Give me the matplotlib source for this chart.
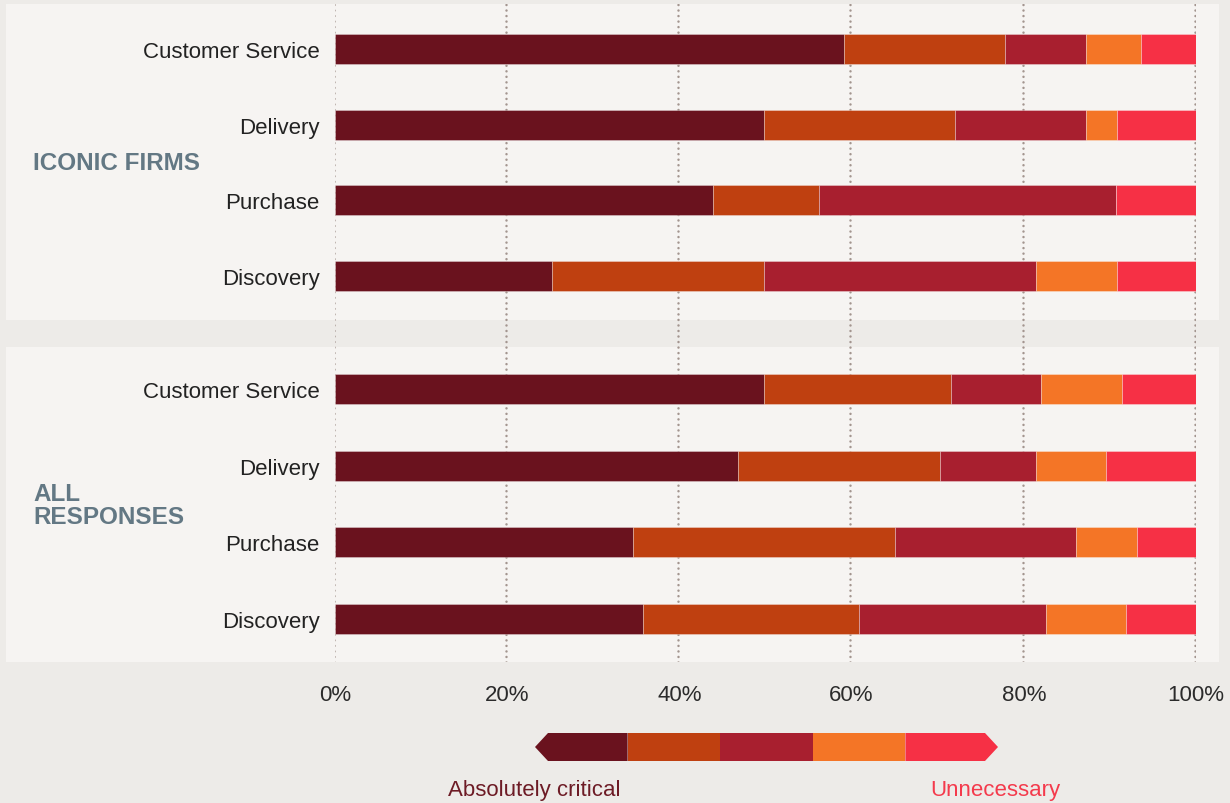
import numpy as np
import matplotlib
matplotlib.use("Agg")
import matplotlib.pyplot as plt
from matplotlib.patches import Rectangle, Polygon

plt.rcParams['font.family'] = ['Liberation Sans', 'DejaVu Sans']

W, H = 1230, 804

categories = ["Customer Service", "Delivery", "Purchase", "Discovery"]
groups = ["ICONIC FIRMS", "ALL\nRESPONSES"]
x_ticks = [0, 20, 40, 60, 80, 100]
x_labels = ["0%", "20%", "40%", "60%", "80%", "100%"]
scale_labels = ["Absolutely critical", "Unnecessary"]

# shares per importance level, most critical first
iconic_l1 = [59.1, 49.8, 43.9, 25.2]
iconic_l2 = [18.7, 22.2, 12.3, 24.6]
iconic_l3 = [9.4, 15.2, 34.5, 31.6]
iconic_l4 = [6.4, 3.6, 0.0, 9.4]
iconic_l5 = [6.4, 9.2, 9.3, 9.2]

all_l1 = [49.8, 46.8, 34.6, 35.8]
all_l2 = [21.7, 23.5, 30.4, 25.1]
all_l3 = [10.5, 11.1, 21.1, 21.7]
all_l4 = [9.4, 8.2, 7.0, 9.3]
all_l5 = [8.6, 10.4, 6.9, 8.1]

colors = ['#6a121e', '#bf4010', '#a81f2f', '#f47526', '#f63045']
bg = '#edebe8'
panel_bg = '#f6f4f2'
grid_c = '#a3958f'


def fx(px):
    return px / W


def fy(py):
    return 1 - py / H


fig = plt.figure(figsize=(W / 100, H / 100), dpi=100)
fig.patch.set_facecolor(bg)

# panel backgrounds
for top, bot in [(5, 321), (348, 663)]:
    fig.patches.append(Rectangle((fx(6), fy(bot)), fx(1219) - fx(6), fy(top) - fy(bot),
                                 transform=fig.transFigure, facecolor=panel_bg,
                                 edgecolor='none', zorder=-5))

x0, x1 = 335, 1196

# grid axes, spans both panels
gax = fig.add_axes([fx(x0), fy(663), fx(x1) - fx(x0), fy(5) - fy(663)])
gax.set_facecolor('none')
gax.set_xlim(0, 100)
gax.set_ylim(0, 1)
gax.set_yticks([])
gax.set_xticks(x_ticks)
gax.set_xticklabels(x_labels, fontsize=16, color='#2b2b2b')
gax.tick_params(axis='x', length=0, pad=16)
for x in x_ticks:
    gax.axvline(x - 0.15, color=grid_c, lw=1.8, ls=(0, (0.01, 2.2)),
                dash_capstyle='round')
for s in gax.spines.values():
    s.set_visible(False)

panels = [
    (groups[0], [iconic_l1, iconic_l2, iconic_l3, iconic_l4, iconic_l5], (5, 321), 50, 75.67, 163),
    (groups[1], [all_l1, all_l2, all_l3, all_l4, all_l5], (348, 663), 390, 76.67, 506),
]

for name, levels, (top, bot), first, step, label_y in panels:
    ax = fig.add_axes([fx(x0), fy(bot), fx(x1) - fx(x0), fy(top) - fy(bot)])
    ax.set_facecolor('none')
    ax.set_xlim(0, 100)
    ax.set_ylim((bot - first) / step, (top - first) / step)
    y = np.arange(len(categories))
    left = np.zeros(len(categories))
    for vals, c in zip(levels, colors):
        vals = np.array(vals)
        ax.barh(y, vals, left=left, height=30 / step, color=c,
                edgecolor=(1, 1, 1, 0.35), linewidth=0.6)
        left += vals
    ax.set_yticks(y)
    ax.set_yticklabels(categories, fontsize=16, color='#222222')
    ax.tick_params(axis='y', length=0, pad=11)
    ax.set_xticks([])
    for s in ax.spines.values():
        s.set_visible(False)
    fig.text(fx(33), fy(label_y), name, fontsize=17.5, fontweight='bold',
             color='#637884', ha='left', va='center', linespacing=0.95)

# legend: arrow-ended colour scale
lax = fig.add_axes([fx(535), fy(762), fx(998) - fx(535), fy(734) - fy(762)])
lax.set_xlim(0, len(colors))
lax.set_ylim(0, 1)
lax.axis('off')
tip = 13 / 92.6
for i, c in enumerate(colors):
    if i == 0:
        pts = [(0, 0.5), (tip, 1), (1, 1), (1, 0), (tip, 0)]
    elif i == len(colors) - 1:
        pts = [(i, 0), (i, 1), (i + 1 - tip, 1), (i + 1, 0.5), (i + 1 - tip, 0)]
    else:
        pts = [(i, 0), (i, 1), (i + 1, 1), (i + 1, 0)]
    lax.add_patch(Polygon(pts, closed=True, facecolor=c, edgecolor='none'))

fig.text(fx(534), fy(791), scale_labels[0], fontsize=16, color='#6d1b25',
         ha='center', va='center')
fig.text(fx(995), fy(791), scale_labels[1], fontsize=16, color='#f43a4c',
         ha='center', va='center')

fig.savefig('out.png', dpi=100, facecolor=bg)
